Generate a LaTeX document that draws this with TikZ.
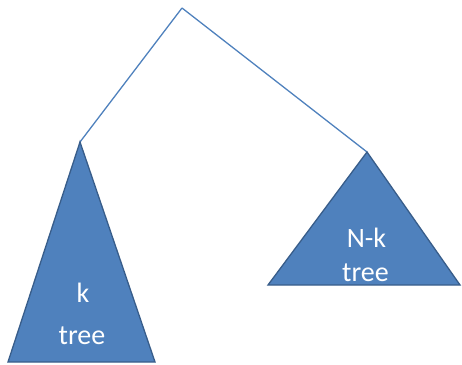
\documentclass[tikz,border=0pt]{standalone}
\usepackage{fontspec}
\setmainfont{Carlito}
\definecolor{accent}{RGB}{79,129,189}
\definecolor{accentdark}{RGB}{56,93,138}
\begin{document}
\begin{tikzpicture}[x=1pt,y=1pt,
  edge/.style={draw=accent,line width=1.3pt},
  subtree/.style={fill=accent,draw=accentdark,line width=1.3pt,line join=miter},
  lbl/.style={text=white,font=\fontsize{28}{34}\selectfont,inner sep=0pt,anchor=base}]
\useasboundingbox (0,0) rectangle (462,364);
% points (y = 364 - pixel row)
\coordinate (root) at (182,356);
\coordinate (ltop) at (80,222);
\coordinate (lbl) at (8,2);
\coordinate (lbr) at (155,2);
\coordinate (rtop) at (367,212);
\coordinate (rbl) at (268,79);
\coordinate (rbr) at (460,79);
\draw[edge] (root) -- (ltop);
\draw[edge] (root) -- (rtop);
\draw[subtree] (ltop) -- (lbr) -- (lbl) -- cycle;
\draw[subtree] (rtop) -- (rbr) -- (rbl) -- cycle;
\node[lbl] (ltext1) at (83,62) {k};
\node[lbl] (ltext2) at (82,20) {tree};
\node[lbl] (rtext1) at (366.5,117) {N-k};
\node[lbl] (rtext2) at (365.5,83) {tree};
\end{tikzpicture}
\end{document}
